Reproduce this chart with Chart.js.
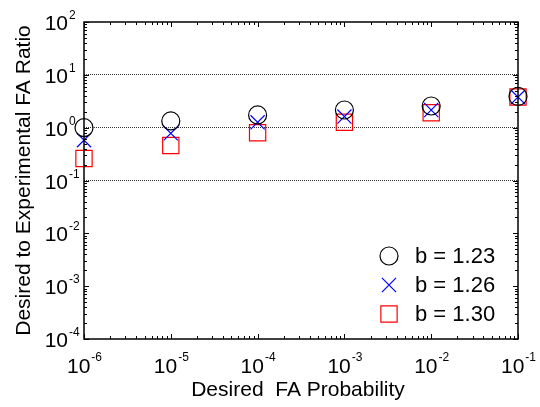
<!DOCTYPE html>
<html>
<head>
<meta charset="utf-8">
<script src="https://cdn.jsdelivr.net/npm/chart.js@4/dist/chart.umd.min.js"></script>
<style>
  html, body { margin: 0; padding: 0; background: #fff; }
  #wrap { width: 540px; height: 407px; }
</style>
</head>
<body>
<div id="wrap"><canvas id="c" width="540" height="407"></canvas></div>
<script>
// data
const faProb = [1e-6, 1e-5, 1e-4, 1e-3, 1e-2, 1e-1];
const ratioB123 = [1.0, 1.34, 1.74, 2.16, 2.57, 3.9];
const ratioB126 = [0.58, 0.78, 1.26, 1.62, 2.16, 3.8];
const ratioB130 = [0.26, 0.46, 0.80, 1.27, 1.92, 3.8];
const seriesLabels = ["b = 1.23", "b = 1.26", "b = 1.30"];
const xTickExp = [-6, -5, -4, -3, -2, -1];
const yTickExp = [-4, -3, -2, -1, 0, 1, 2];
const gridExp = [-1, 0, 1];

const FONT = '"Liberation Sans", Arial, Helvetica, sans-serif';

function pts(ys) {
  return faProb.map((x, i) => ({ x: x, y: ys[i] }));
}

function legendMarker(ctx, ds, x, y) {
  ctx.save();
  ctx.strokeStyle = ds.borderColor;
  ctx.fillStyle = "rgba(0,0,0,0)";
  ctx.lineWidth = ds.pointBorderWidth;
  Chart.helpers.drawPoint(ctx, {
    pointStyle: ds.pointStyle,
    radius: ds.pointRadius,
    borderWidth: ds.pointBorderWidth,
    rotation: 0
  }, x, y);
  ctx.restore();
}

/* ---------- frame, ticks, labels, legend ---------- */
const matlabAxes = {
  id: "matlabAxes",
  afterDraw(chart) {
    const ctx = chart.ctx;
    const a = chart.chartArea;
    const xs = chart.scales.x;
    const ys = chart.scales.y;
    ctx.save();

    // tick marks, pointing in, on all four sides
    ctx.strokeStyle = "#000";
    ctx.lineWidth = 1;
    ctx.beginPath();
    for (let e = -6; e <= -1; e++) {
      for (let k = 1; k <= 9; k++) {
        const v = k * Math.pow(10, e);
        if (v > 0.1 + 1e-12) continue;
        const px = Math.round(xs.getPixelForValue(v)) + 0.5;
        const len = k === 1 ? 5 : 3;
        ctx.moveTo(px, a.bottom); ctx.lineTo(px, a.bottom - len);
        ctx.moveTo(px, a.top); ctx.lineTo(px, a.top + len);
      }
    }
    for (let e = -4; e <= 2; e++) {
      for (let k = 1; k <= 9; k++) {
        const v = k * Math.pow(10, e);
        if (v > 100 + 1e-9) continue;
        const py = Math.round(ys.getPixelForValue(v)) + 0.5;
        const len = k === 1 ? 5 : 3;
        ctx.moveTo(a.left, py); ctx.lineTo(a.left + len, py);
        ctx.moveTo(a.right, py); ctx.lineTo(a.right - len, py);
      }
    }
    ctx.stroke();

    // box
    ctx.lineWidth = 1.5;
    ctx.strokeRect(a.left, a.top, a.right - a.left, a.bottom - a.top);

    // tick labels 10^n
    ctx.fillStyle = "#000";
    ctx.textBaseline = "alphabetic";
    const big = "21px " + FONT;
    const small = "12px " + FONT;
    xTickExp.forEach(n => {
      const px = xs.getPixelForValue(Math.pow(10, n));
      ctx.font = big;
      const w1 = ctx.measureText("10").width;
      ctx.font = small;
      const w2 = ctx.measureText(String(n)).width;
      const x0 = px - (w1 + w2) / 2;
      ctx.textAlign = "left";
      ctx.font = big;
      ctx.fillText("10", x0, a.bottom + 34);
      ctx.font = small;
      ctx.fillText(String(n), x0 + w1 + 1, a.bottom + 22);
    });
    yTickExp.forEach(n => {
      const py = ys.getPixelForValue(Math.pow(10, n));
      ctx.font = big;
      ctx.textAlign = "right";
      ctx.fillText("10", a.left - 16, py + 8);
      ctx.font = small;
      ctx.textAlign = "left";
      ctx.fillText(String(n), a.left - 15, py - 3);
    });

    // axis titles
    ctx.font = big;
    ctx.textAlign = "center";
    ctx.textBaseline = "middle";
    ctx.fillText("Desired  FA Probability", (a.left + a.right) / 2 - 3, 390);
    ctx.save();
    ctx.translate(24, (a.top + a.bottom) / 2);
    ctx.rotate(-Math.PI / 2);
    ctx.fillText("Desired to Experimental FA Ratio", 0, 0);
    ctx.restore();

    // legend, no box
    const rowsY = [256, 285, 314];
    chart.data.datasets.forEach((ds, i) => {
      legendMarker(ctx, ds, 389, rowsY[i]);
      ctx.font = "22px " + FONT;
      ctx.fillStyle = "#000";
      ctx.textAlign = "left";
      ctx.textBaseline = "middle";
      ctx.fillText(ds.label, 415, rowsY[i] + 1);
    });

    ctx.restore();
  }
};

const datasets = [
  { label: seriesLabels[0], data: pts(ratioB123), pointStyle: "circle", pointRadius: 9,
    borderColor: "#000", pointBorderWidth: 1.2 },
  { label: seriesLabels[1], data: pts(ratioB126), pointStyle: "crossRot", pointRadius: 10,
    borderColor: "#0000ff", pointBorderWidth: 1.2 },
  { label: seriesLabels[2], data: pts(ratioB130), pointStyle: "rect", pointRadius: 11.5,
    borderColor: "#ff0000", pointBorderWidth: 1.2 }
].map(d => Object.assign({
  showLine: false,
  backgroundColor: "rgba(0,0,0,0)",
  pointBackgroundColor: "rgba(0,0,0,0)",
  pointBorderColor: d.borderColor,
  pointHoverRadius: d.pointRadius,
  clip: false
}, d));

new Chart(document.getElementById("c"), {
  type: "scatter",
  data: { datasets: datasets },
  options: {
    responsive: false,
    animation: false,
    events: [],
    layout: { padding: { left: 84, top: 22, right: 22, bottom: 68 } },
    plugins: { legend: { display: false }, tooltip: { enabled: false } },
    scales: {
      x: {
        type: "logarithmic", min: 1e-6, max: 1e-1,
        ticks: { display: false },
        grid: { display: false, drawTicks: false },
        border: { display: false }
      },
      y: {
        type: "logarithmic", min: 1e-4, max: 1e2,
        ticks: { display: false },
        border: { display: false, dash: [1, 1] },
        grid: {
          drawTicks: false,
          lineWidth: 1,
          color: c => {
            const v = c.tick && c.tick.value;
            if (!v) return "rgba(0,0,0,0)";
            const l = Math.log10(v);
            const r = Math.round(l);
            return Math.abs(l - r) < 1e-6 && gridExp.includes(r) ? "#333" : "rgba(0,0,0,0)";
          }
        }
      }
    }
  },
  plugins: [matlabAxes]
});
</script>
</body>
</html>
